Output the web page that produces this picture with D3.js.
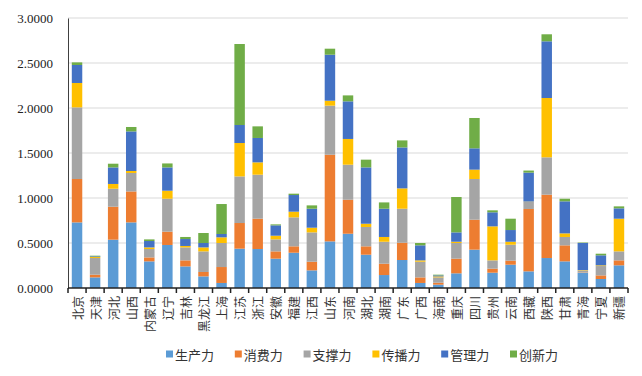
<!DOCTYPE html>
<html lang="zh">
<head>
  <meta charset="UTF-8">
  <title>stacked</title>
  <script src="https://cdn.jsdelivr.net/npm/d3@7"></script>
  <style>
    body{ margin:0; background:#fff; }
    .chart svg{ background:#fff; display:block; }
  </style>
</head>
<body>
<div class="chart"></div>
<script>
  const provinces = ['北京','天津','河北','山西','内蒙古','辽宁','吉林','黑龙江','上海','江苏','浙江','安徽','福建','江西','山东','河南','湖北','湖南','广东','广西','海南','重庆','四川','贵州','云南','西藏','陕西','甘肃','青海','宁夏','新疆'];
  const seriesNames = ['生产力','消费力','支撑力','传播力','管理力','创新力'];
  const colors = ['#5B9BD5','#ED7D31','#A5A5A5','#FFC000','#4472C4','#70AD47'];

  const production  = [0.729,0.118,0.537,0.729,0.296,0.478,0.240,0.129,0.056,0.437,0.433,0.326,0.392,0.196,0.518,0.603,0.370,0.144,0.311,0.056,0.037,0.163,0.426,0.170,0.259,0.185,0.333,0.296,0.167,0.100,0.252];
  const consumption = [0.482,0.030,0.366,0.344,0.044,0.148,0.067,0.049,0.177,0.285,0.337,0.081,0.071,0.096,0.963,0.378,0.093,0.126,0.192,0.062,0.022,0.163,0.333,0.045,0.045,0.693,0.704,0.178,0.004,0.040,0.055];
  const support     = [0.796,0.185,0.200,0.205,0.093,0.366,0.144,0.229,0.267,0.518,0.489,0.133,0.322,0.326,0.545,0.389,0.215,0.244,0.378,0.174,0.059,0.174,0.452,0.092,0.177,0.078,0.415,0.093,0.025,0.104,0.100];
  const spread      = [0.271,0.011,0.053,0.022,0.018,0.089,0.016,0.044,0.063,0.371,0.137,0.041,0.063,0.052,0.055,0.286,0.036,0.053,0.226,0.015,0.011,0.014,0.104,0.378,0.033,0.004,0.659,0.040,0.004,0.008,0.363];
  const management  = [0.200,0.008,0.184,0.440,0.071,0.259,0.077,0.049,0.037,0.200,0.271,0.115,0.185,0.211,0.511,0.418,0.626,0.314,0.455,0.167,0.011,0.104,0.237,0.156,0.130,0.322,0.630,0.356,0.300,0.111,0.115];
  const innovation  = [0.029,0.007,0.041,0.049,0.018,0.044,0.023,0.111,0.333,0.900,0.129,0.011,0.015,0.037,0.067,0.066,0.086,0.070,0.078,0.026,0.008,0.393,0.337,0.022,0.126,0.023,0.078,0.029,0.005,0.018,0.022];
  const yTicks = [0, 0.5, 1, 1.5, 2, 2.5, 3];

  const seriesValues = [production, consumption, support, spread, management, innovation];
  const rows = provinces.map((p, i) => {
    const r = {name: p};
    seriesNames.forEach((s, k) => r[s] = seriesValues[k][i]);
    return r;
  });

  let chart = {
    size: {w: 642, h: 376},
    margin: {left: 68, top: 18, right: 14, bottom: 88}
  };
  chart.inBox = {w: chart.size.w - chart.margin.left - chart.margin.right, h: chart.size.h - chart.margin.top - chart.margin.bottom};

  const x = d3.scaleBand().domain(provinces).range([0, chart.inBox.w]).paddingInner(0.42).paddingOuter(0.21);
  const y = d3.scaleLinear().domain([0, 3]).range([chart.inBox.h, 0]);
  const stack = d3.stack().keys(seriesNames)(rows);

  const svg = d3.select('.chart').append('svg')
    .attr('width', chart.size.w).attr('height', chart.size.h);
  const g = svg.append('g').attr('transform', `translate(${chart.margin.left},${chart.margin.top})`);

  // gridlines
  g.append('g').selectAll('line').data(yTicks.filter(d => d > 0)).enter().append('line')
    .attr('x1', 0).attr('x2', chart.inBox.w)
    .attr('y1', d => y(d)).attr('y2', d => y(d))
    .attr('stroke', '#D9D9D9').attr('stroke-width', 1);

  // bars
  g.append('g').selectAll('g').data(stack).enter().append('g')
    .attr('fill', (d, i) => colors[i])
    .selectAll('rect').data(d => d).enter().append('rect')
    .attr('x', d => x(d.data.name))
    .attr('width', x.bandwidth())
    .attr('y', d => y(d[1]))
    .attr('height', d => y(d[0]) - y(d[1]));

  // y axis
  const yAxis = d3.axisLeft(y).tickValues(yTicks).tickSize(0).tickPadding(15).tickFormat(d3.format('.4f'));
  const ya = g.append('g').call(yAxis);
  ya.select('.domain').attr('stroke', '#404040');
  ya.selectAll('text').attr('font-family', '"Liberation Serif", serif').attr('font-size', 13).attr('fill', '#222');

  // x axis with ticks at band boundaries
  const xa = g.append('g').attr('transform', `translate(0,${chart.inBox.h})`);
  xa.append('line').attr('x1', 0).attr('x2', chart.inBox.w).attr('stroke', '#222').attr('stroke-width', 1.5);
  const step = x.step();
  const bounds = d3.range(provinces.length + 1).map(i => x(provinces[0]) - x.paddingInner() * step / 2 + i * step);
  xa.selectAll('.tk').data(bounds).enter().append('line')
    .attr('x1', d => d).attr('x2', d => d).attr('y1', 0).attr('y2', 5)
    .attr('stroke', '#222').attr('stroke-width', 1.5);
  xa.selectAll('.lbl').data(provinces).enter().append('text')
    .attr('transform', d => `translate(${x(d) + x.bandwidth() / 2},8) rotate(-90)`)
    .attr('text-anchor', 'end')
    .attr('dominant-baseline', 'central')
    .attr('font-family', '"Noto Sans CJK SC", sans-serif')
    .attr('font-size', 12).attr('fill', '#333')
    .text(d => d);

  // legend
  const legend = svg.append('g').attr('transform', 'translate(166,354)');
  const item = legend.selectAll('g').data(seriesNames).enter().append('g')
    .attr('transform', (d, i) => `translate(${i * 68.8},0)`);
  item.append('rect').attr('x', 0).attr('y', -3.5).attr('width', 7).attr('height', 7)
    .attr('fill', (d, i) => colors[i]);
  item.append('text').attr('x', 9).attr('dominant-baseline', 'central')
    .attr('font-family', '"Noto Sans CJK SC", sans-serif')
    .attr('font-size', 13).attr('fill', '#333')
    .text(d => d);
</script>
</body>
</html>
